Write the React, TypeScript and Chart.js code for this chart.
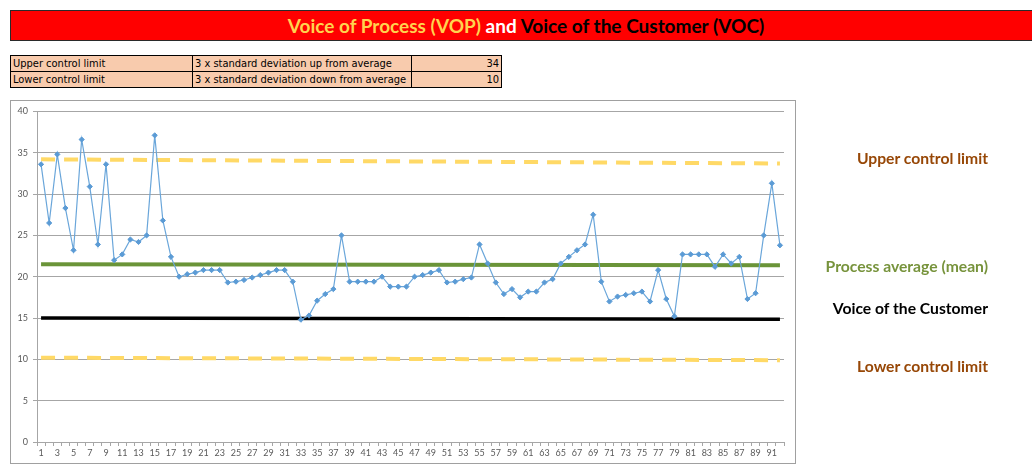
import React, { useEffect, useRef } from "react";
import { Chart, registerables } from "chart.js";

Chart.register(...registerables);

const categories: string[] = Array.from({ length: 92 }, (_, i) => String(i + 1));

const processValues: number[] = [
  33.6, 26.5, 34.8, 28.3, 23.2, 36.6, 30.9, 23.9, 33.6, 22.0,
  22.7, 24.5, 24.2, 25.0, 37.1, 26.8, 22.4, 20.0, 20.3, 20.5,
  20.8, 20.8, 20.8, 19.3, 19.4, 19.6, 19.9, 20.2, 20.5, 20.8,
  20.8, 19.4, 14.8, 15.3, 17.1, 17.9, 18.5, 25.0, 19.4, 19.4,
  19.4, 19.4, 20.0, 18.8, 18.8, 18.8, 20.0, 20.2, 20.5, 20.8,
  19.3, 19.4, 19.7, 19.9, 23.9, 21.6, 19.3, 17.9, 18.5, 17.5,
  18.2, 18.2, 19.3, 19.7, 21.6, 22.4, 23.2, 23.9, 27.5, 19.4,
  17.0, 17.6, 17.8, 18.0, 18.2, 17.0, 20.8, 17.3, 15.2, 22.7,
  22.7, 22.7, 22.7, 21.2, 22.7, 21.6, 22.4, 17.3, 18.0, 25.0,
  31.3, 23.8,
];

// reference lines: value at first and last category
const upperLimitEnds: number[] = [34.2, 33.7];
const meanEnds: number[] = [21.5, 21.4];
const customerEnds: number[] = [15.0, 14.85];
const lowerLimitEnds: number[] = [10.2, 9.9];

const yTicks = { min: 0, max: 40, step: 5 };

const titleParts = [
  { text: "Voice of Process (VOP) ", color: "#FFD34F" },
  { text: "and ", color: "#FFFFFF" },
  { text: "Voice of the Customer (VOC)", color: "#000000" },
];

const tableRows = [
  ["Upper control limit", "3 x standard deviation up from average", "34"],
  ["Lower control limit", "3 x standard deviation down from average", "10"],
];

const sideLabels = [
  { text: "Upper control limit", color: "#974706", y: 158 },
  { text: "Process average (mean)", color: "#77933C", y: 266 },
  { text: "Voice of the Customer", color: "#000000", y: 308 },
  { text: "Lower control limit", color: "#974706", y: 366 },
];

const first = categories[0];
const last = categories[categories.length - 1];
const ends = (v: number[]) => [
  { x: first, y: v[0] },
  { x: last, y: v[1] },
];

export default function App() {
  const ref = useRef<HTMLCanvasElement | null>(null);

  useEffect(() => {
    if (!ref.current) return;
    const refLine = (label: string, v: number[], color: string, width: number, dash: number[]) => ({
      label,
      data: ends(v) as any,
      borderColor: color,
      backgroundColor: color,
      borderWidth: width,
      borderDash: dash,
      pointRadius: 0,
      tension: 0,
      order: 2,
      borderCapStyle: "butt" as const,
    });
    const chart = new Chart(ref.current, {
      type: "line",
      data: {
        labels: categories,
        datasets: [
          {
            label: "VOP",
            data: processValues,
            borderColor: "#6AA6DA",
            backgroundColor: "#5B9BD5",
            borderWidth: 1.2,
            pointStyle: "rectRot",
            pointRadius: 2.6,
            pointBorderColor: "#5B9BD5",
            pointBorderWidth: 1,
            tension: 0,
            order: 1,
          },
          refLine("UCL", upperLimitEnds, "#FFD966", 4, [14, 9]),
          refLine("Mean", meanEnds, "#6A9438", 4, []),
          refLine("VOC", customerEnds, "#000000", 3.5, []),
          refLine("LCL", lowerLimitEnds, "#FFD966", 4, [14, 9]),
        ],
      },
      options: {
        animation: false,
        responsive: false,
        layout: { padding: { left: 0, right: 11, top: 10, bottom: 0 } },
        plugins: { legend: { display: false }, title: { display: false }, tooltip: { enabled: false } },
        scales: {
          x: {
            type: "category",
            offset: true,
            grid: { offset: true, drawOnChartArea: false, tickLength: 4, color: "#A6A6A6" },
            border: { color: "#A6A6A6" },
            ticks: {
              autoSkip: false,
              maxRotation: 0,
              minRotation: 0,
              padding: 2,
              color: "#595959",
              font: { size: 9, family: "Lato, 'Open Sans', sans-serif" },
              callback: (_v: any, i: number) => (i % 2 === 0 ? categories[i] : ""),
            },
            afterFit: (s: any) => {
              s.height = 21;
            },
          },
          y: {
            min: yTicks.min,
            max: yTicks.max,
            grid: { color: "#A6A6A6", tickLength: 4 },
            border: { color: "#A6A6A6" },
            ticks: {
              stepSize: yTicks.step,
              padding: 5,
              color: "#595959",
              font: { size: 9, family: "Lato, 'Open Sans', sans-serif" },
            },
            afterFit: (s: any) => {
              s.width = 26;
            },
          },
        },
      },
    });
    return () => chart.destroy();
  }, []);

  const cellBase: React.CSSProperties = {
    position: "absolute",
    boxSizing: "border-box",
    border: "1px solid #000",
    background: "#F8CBAD",
    fontFamily: "'Liberation Sans Narrow', 'DejaVu Sans Condensed', sans-serif",
    fontSize: 11,
    lineHeight: "15px",
    height: 17,
    padding: "0 2px",
    whiteSpace: "nowrap",
    overflow: "hidden",
    color: "#000",
  };
  const colX = [10, 192, 411, 501];

  return (
    <div style={{ position: "absolute", left: 0, top: 0, width: 1032, height: 464, overflow: "hidden", background: "#fff" }}>
      <div
        style={{
          position: "absolute",
          left: 10,
          top: 10,
          width: 1030,
          height: 31,
          boxSizing: "border-box",
          background: "#FF0000",
          border: "1px solid #2a2a2a",
          fontFamily: "Lato, 'Open Sans', sans-serif",
          fontWeight: 700,
          fontSize: 19,
          lineHeight: "30px",
          whiteSpace: "nowrap",
        }}
      >
        <div style={{ position: "absolute", left: 0, width: 1030, textAlign: "center", top: 0, paddingLeft: 0, boxSizing: "border-box" }}>
          {titleParts.map((p, i) => (
            <span key={i} style={{ color: p.color, whiteSpace: "pre" }}>
              {p.text}
            </span>
          ))}
        </div>
      </div>

      {tableRows.map((row, r) =>
        row.map((cell, c) => (
          <div
            key={r + "-" + c}
            style={{
              ...cellBase,
              left: colX[c],
              top: 55 + r * 16,
              width: colX[c + 1] - colX[c] + 1,
              textAlign: c === 2 ? "right" : "left",
            }}
          >
            {cell}
          </div>
        ))
      )}

      <div
        style={{
          position: "absolute",
          left: 10,
          top: 100,
          width: 786,
          height: 364,
          boxSizing: "border-box",
          border: "1px solid #A0A0A0",
          background: "#fff",
        }}
      >
        <canvas ref={ref} width={784} height={362} style={{ display: "block", width: 784, height: 362 }} />
      </div>

      {sideLabels.map((l, i) => (
        <div
          key={i}
          style={{
            position: "absolute",
            left: 768,
            width: 220,
            top: l.y - 10,
            height: 20,
            lineHeight: "20px",
            textAlign: "right",
            color: l.color,
            fontFamily: "Lato, 'Open Sans', sans-serif",
            fontWeight: 700,
            fontSize: 15.7,
            whiteSpace: "nowrap",
          }}
        >
          {l.text}
        </div>
      ))}
    </div>
  );
}
